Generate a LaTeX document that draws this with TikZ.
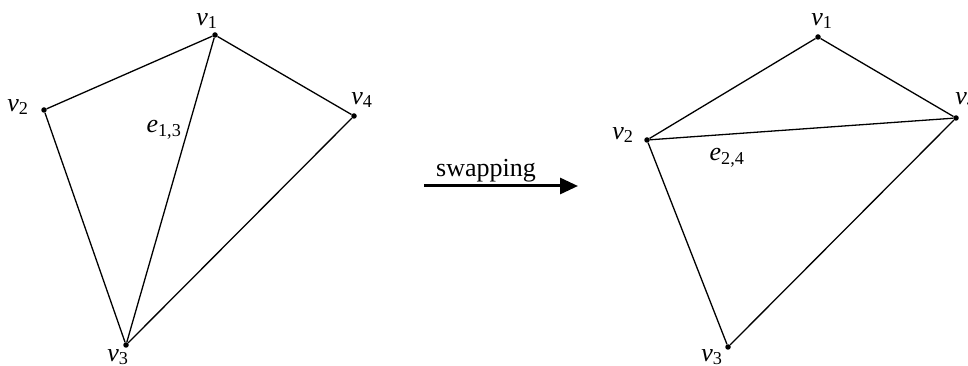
\documentclass[tikz,border=0pt]{standalone}
\usepackage{fontspec}
\setmainfont{Liberation Serif}
\usetikzlibrary{arrows.meta}
\tikzset{
  vdot/.style={circle,fill=black,inner sep=0pt,minimum size=5.5pt},
  lbl/.style={inner sep=0pt,font=\fontsize{26}{30}\selectfont},
  edge/.style={line width=1.3pt},
}
\newcommand{\vv}[1]{\textit{v}\textsubscript{#1}}
\newcommand{\ee}[1]{\textit{e}\textsubscript{#1}}
\begin{document}
\begin{tikzpicture}[x=1pt,y=1pt]
\useasboundingbox (0,0) rectangle (968,366);
% left graph
\node[vdot] (a1) at (215,331) {};
\node[vdot] (a2) at (44,256) {};
\node[vdot] (a3) at (126,21) {};
\node[vdot] (a4) at (354,250) {};
\draw[edge] (a1) -- (a2) -- (a3) -- (a4) -- (a1);
\draw[edge] (a1) -- (a3);
\node[lbl] (la1) at (207,345) {\vv{1}};
\node[lbl] (la2) at (18,259) {\vv{2}};
\node[lbl] (la3) at (118,9) {\vv{3}};
\node[lbl] (la4) at (362,266) {\vv{4}};
\node[lbl] (le13) at (164,236) {\ee{1,3}};
% arrow
\coordinate (s) at (424,180);
\coordinate (t) at (578,180);
\draw[line width=3pt,-{Triangle[length=18pt,width=16pt]}] (s) -- (t);
\node[lbl] (sw) at (486,195) {swapping};
% right graph
\node[vdot] (b1) at (818,329) {};
\node[vdot] (b2) at (647,226) {};
\node[vdot] (b3) at (728,19) {};
\node[vdot] (b4) at (956,248) {};
\draw[edge] (b1) -- (b2) -- (b3) -- (b4) -- (b1);
\draw[edge] (b2) -- (b4);
\node[lbl] (lb1) at (822,345) {\vv{1}};
\node[lbl] (lb2) at (623,231) {\vv{2}};
\node[lbl] (lb3) at (712,9) {\vv{3}};
\node[lbl] (lb4) at (966,266) {\vv{4}};
\node[lbl] (le24) at (727,208) {\ee{2,4}};
\end{tikzpicture}
\end{document}
